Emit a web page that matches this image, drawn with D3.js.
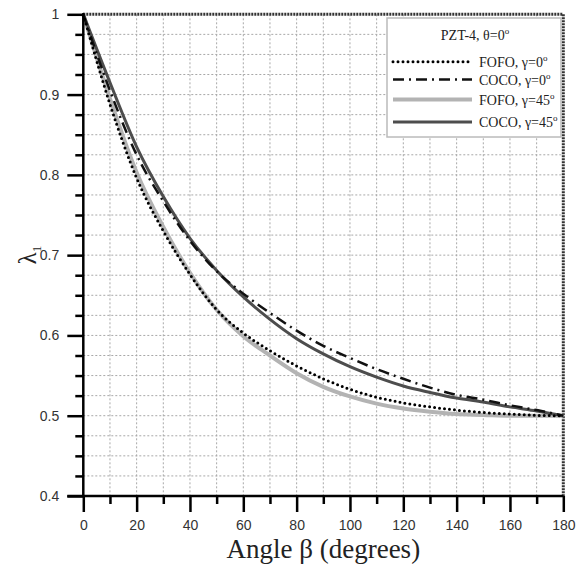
<!DOCTYPE html>
<html><head><meta charset="utf-8">
<script src="https://cdn.jsdelivr.net/npm/d3@7"></script>
<style>body{margin:0;background:#fff}svg{display:block}</style>
</head><body>
<svg id="c" width="584" height="570"></svg>
<script>
const angles = [0,10,20,30,40,50,60,70,80,90,100,110,120,130,140,150,160,170,180];
const fofo0  = [1,0.888,0.796,0.730,0.676,0.632,0.603,0.581,0.562,0.546,0.533,0.523,0.516,0.511,0.507,0.504,0.502,0.5005,0.5];
const coco0  = [1,0.905,0.825,0.767,0.718,0.680,0.652,0.628,0.606,0.587,0.572,0.558,0.546,0.535,0.526,0.520,0.513,0.507,0.5];
const fofo45 = [1,0.895,0.803,0.735,0.678,0.632,0.599,0.575,0.553,0.536,0.524,0.515,0.509,0.505,0.502,0.501,0.5,0.5,0.5];
const coco45 = [1,0.915,0.835,0.773,0.721,0.681,0.648,0.620,0.596,0.577,0.561,0.548,0.537,0.529,0.522,0.517,0.511,0.506,0.5];
const xMajor = [0,20,40,60,80,100,120,140,160,180];
const xMinor = [10,30,50,70,90,110,130,150,170];
const yMajor = [0.4,0.5,0.6,0.7,0.8,0.9,1];
const yLabels = ["0.4","0.5","0.6","0.7","0.8","0.9","1"];
const yMinor = d3.range(0.4,1.0001,0.025).filter(v=>Math.abs(Math.round(v*10)-v*10)>1e-6);
const legendTitle = "PZT-4, \u03b8=0";
const seriesNames = ["FOFO, \u03b3=0","COCO, \u03b3=0","FOFO, \u03b3=45","COCO, \u03b3=45"];

const svg = d3.select("#c");
const L=83.3, R=563.3, T=14.3, B=496;
const x = d3.scaleLinear().domain([0,180]).range([L,R]);
const y = d3.scaleLinear().domain([0.4,1]).range([B,T]);

// grid
const g = svg.append("g");
g.selectAll(".gx").data(d3.range(10,180,10)).join("line")
 .attr("x1",d=>x(d)).attr("x2",d=>x(d)).attr("y1",T).attr("y2",B)
 .attr("stroke","#a8a8a8").attr("stroke-width",1).attr("stroke-dasharray","2,2");
g.selectAll(".gy").data(d3.range(0.425,1,0.025)).join("line")
 .attr("x1",L).attr("x2",R).attr("y1",d=>y(d)).attr("y2",d=>y(d))
 .attr("stroke","#a8a8a8").attr("stroke-width",1).attr("stroke-dasharray","2,2");

// top/right dotted border
svg.append("path").attr("d",`M${L},${T}H${R}V${B}`).attr("fill","none")
 .attr("stroke","#333").attr("stroke-width",3).attr("stroke-dasharray","2,1");

// curves
const line = d3.line().x((d,i)=>x(angles[i])).y(d=>y(d)).curve(d3.curveMonotoneX);
const styles = [
 {data:fofo45, stroke:"#b3b3b3", w:4, dash:null, cap:"butt"},
 {data:coco45, stroke:"#4d4d4d", w:3, dash:null, cap:"butt"},
 {data:coco0, stroke:"#111", w:2.5, dash:"11,5,2,5", cap:"butt"},
 {data:fofo0, stroke:"#000", w:3, dash:"0,5", cap:"round"}
];
styles.forEach(s=>{
 svg.append("path").attr("d",line(s.data)).attr("fill","none")
  .attr("stroke",s.stroke).attr("stroke-width",s.w)
  .attr("stroke-dasharray",s.dash).attr("stroke-linecap",s.cap);
});

// axes
const ax = svg.append("g").attr("transform",`translate(0,${B})`);
ax.call(d3.axisBottom(x).tickValues(xMajor).tickSize(16).tickSizeOuter(0).tickFormat(d3.format("d")));
ax.select(".domain").remove();
ax.selectAll(".tick line").attr("stroke","#000").attr("stroke-width",2.5);
ax.selectAll(".tick text").attr("y",24).attr("font-family","Liberation Sans, Arial, sans-serif").attr("font-size",14).attr("fill","#333");
const axm = svg.append("g").attr("transform",`translate(0,${B})`);
axm.call(d3.axisBottom(x).tickValues(xMinor).tickSize(8).tickFormat(""));
axm.select(".domain").remove();
axm.selectAll(".tick line").attr("stroke","#000").attr("stroke-width",2.5);

const ay = svg.append("g").attr("transform",`translate(${L},0)`);
ay.call(d3.axisLeft(y).tickValues(yMajor).tickSize(16).tickFormat((d,i)=>yLabels[i]));
ay.select(".domain").remove();
ay.selectAll(".tick line").attr("stroke","#000").attr("stroke-width",2.5);
ay.selectAll(".tick text").attr("x",-24).attr("font-family","Liberation Sans, Arial, sans-serif").attr("font-size",14).attr("fill","#333");
const aym = svg.append("g").attr("transform",`translate(${L},0)`);
aym.call(d3.axisLeft(y).tickValues(yMinor).tickSize(8).tickFormat(""));
aym.select(".domain").remove();
aym.selectAll(".tick line").attr("stroke","#000").attr("stroke-width",2.5);

// axis lines
svg.append("line").attr("x1",L).attr("x2",L).attr("y1",T).attr("y2",B).attr("stroke","#000").attr("stroke-width",2.5);
svg.append("line").attr("x1",L-16).attr("x2",R).attr("y1",B).attr("y2",B).attr("stroke","#000").attr("stroke-width",2.5);

// axis titles
svg.append("text").attr("x",(L+R)/2).attr("y",558).attr("text-anchor","middle")
 .attr("font-family","Liberation Serif, Times New Roman, serif").attr("font-size",27).attr("fill","#222")
 .text("Angle \u03b2 (degrees)");
const yl = svg.append("text").attr("transform",`translate(36,${(T+B)/2}) rotate(-90)`).attr("text-anchor","middle")
 .attr("font-family","Liberation Serif, Times New Roman, serif").attr("font-size",25).attr("fill","#222");
yl.append("tspan").text("\u03bb");
yl.append("tspan").attr("font-size",13).attr("dy",5).text("1");

// legend
const lg = svg.append("g");
lg.append("rect").attr("x",387).attr("y",18).attr("width",174).attr("height",119)
 .attr("fill","#fff").attr("stroke","#bbb").attr("stroke-width",1.5);
const lt = lg.append("text").attr("x",475).attr("y",40).attr("text-anchor","middle")
 .attr("font-family","Liberation Serif, Times New Roman, serif").attr("font-size",14).attr("fill","#222");
lt.append("tspan").text(legendTitle);
lt.append("tspan").attr("font-size",9).attr("dy",-6).text("o");
const rowsY = [61.7,79.5,99.5,122];
const legStyles = [styles[3],styles[2],styles[0],styles[1]];
rowsY.forEach((ry,i)=>{
 const s = legStyles[i];
 lg.append("line").attr("x1",393).attr("x2",472).attr("y1",ry).attr("y2",ry)
  .attr("stroke",s.stroke).attr("stroke-width",s.w).attr("stroke-dasharray",s.dash).attr("stroke-linecap",s.cap);
 const t = lg.append("text").attr("x",479).attr("y",ry+5)
  .attr("font-family","Liberation Serif, Times New Roman, serif").attr("font-size",14).attr("fill","#222");
 t.append("tspan").text(seriesNames[i]);
 t.append("tspan").attr("font-size",9).attr("dy",-6).text("o");
});
</script>
</body></html>
